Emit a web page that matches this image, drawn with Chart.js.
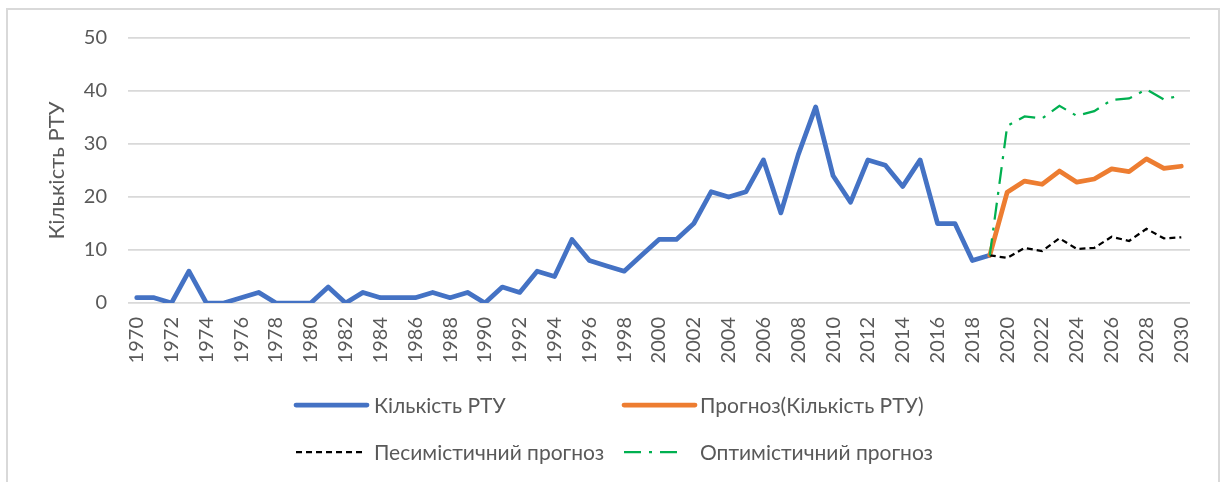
<!DOCTYPE html>
<html><head><meta charset="utf-8">
<script src="https://cdn.jsdelivr.net/npm/chart.js@4.4.0/dist/chart.umd.min.js"></script>
<style>
html,body{margin:0;padding:0;background:#fff;overflow:hidden;}
#frame{position:absolute;left:6px;top:8px;width:1214px;height:490px;border:2px solid #d9d9d9;box-sizing:border-box;}
#wrap{position:absolute;left:0;top:0;width:1221px;height:482px;}
</style></head><body>
<div id="frame"></div>
<div id="wrap"><canvas id="c" width="1221" height="482"></canvas></div>
<script>
const years = ['1970','1971','1972','1973','1974','1975','1976','1977','1978','1979',
  '1980','1981','1982','1983','1984','1985','1986','1987','1988','1989',
  '1990','1991','1992','1993','1994','1995','1996','1997','1998','1999',
  '2000','2001','2002','2003','2004','2005','2006','2007','2008','2009',
  '2010','2011','2012','2013','2014','2015','2016','2017','2018','2019',
  '2020','2021','2022','2023','2024','2025','2026','2027','2028','2029','2030'];

const actual = [1,1,0,6,0,0,1,2,0,0,
  0,3,0,2,1,1,1,2,1,2,
  0,3,2,6,5,12,8,7,6,9,
  12,12,15,21,20,21,27,17,28,37,
  24,19,27,26,22,27,15,15,8,9,
  null,null,null,null,null,null,null,null,null,null,null];

const forecast = [null,null,null,null,null,null,null,null,null,null,
  null,null,null,null,null,null,null,null,null,null,
  null,null,null,null,null,null,null,null,null,null,
  null,null,null,null,null,null,null,null,null,null,
  null,null,null,null,null,null,null,null,null,9,
  20.9,23.0,22.4,24.9,22.8,23.4,25.3,24.8,27.2,25.4,25.8];

const pessimistic = [null,null,null,null,null,null,null,null,null,null,
  null,null,null,null,null,null,null,null,null,null,
  null,null,null,null,null,null,null,null,null,null,
  null,null,null,null,null,null,null,null,null,null,
  null,null,null,null,null,null,null,null,null,9,
  8.5,10.4,9.8,12.2,10.2,10.4,12.5,11.7,14.0,12.2,12.4];

const optimistic = [null,null,null,null,null,null,null,null,null,null,
  null,null,null,null,null,null,null,null,null,null,
  null,null,null,null,null,null,null,null,null,null,
  null,null,null,null,null,null,null,null,null,null,
  null,null,null,null,null,null,null,null,null,9,
  33.4,35.2,34.8,37.2,35.3,36.2,38.3,38.6,40.3,38.4,39.2];

const yTicks = [0,10,20,30,40,50];
const seriesLabels = ['Кількість РТУ','Прогноз(Кількість РТУ)','Песимістичний прогноз','Оптимістичний прогноз'];

const TXT = '#595959';
const FONT = 'Lato, "Noto Sans", sans-serif';

const legendPlugin = {
  id: 'customLegend',
  afterDraw(chart) {
    const ctx = chart.ctx;
    const slots = [
      {x: 296, y: 405, len: 71, tx: 374},
      {x: 624, y: 405, len: 71, tx: 700},
      {x: 296, y: 452, len: 69, tx: 374},
      {x: 624, y: 452, len: 58, tx: 700}
    ];
    chart.data.datasets.forEach((ds, i) => {
      const s = slots[i];
      ctx.save();
      ctx.strokeStyle = ds.borderColor;
      ctx.lineWidth = ds.borderWidth;
      ctx.lineCap = ds.borderDash && ds.borderDash.length ? 'butt' : 'round';
      ctx.setLineDash(ds.borderDash || []);
      ctx.beginPath();
      ctx.moveTo(s.x, s.y);
      ctx.lineTo(s.x + s.len, s.y);
      ctx.stroke();
      ctx.setLineDash([]);
      ctx.fillStyle = TXT;
      ctx.font = '21px ' + FONT;
      ctx.textBaseline = 'middle';
      ctx.textAlign = 'left';
      ctx.fillText(ds.label, s.tx, s.y + 1);
      ctx.restore();
    });
  }
};

new Chart(document.getElementById('c'), {
  type: 'line',
  data: {
    labels: years,
    datasets: [
      {label: seriesLabels[0], data: actual, borderColor: '#4472C4', borderWidth: 4.75, order: 4,
       borderJoinStyle: 'round', borderCapStyle: 'round'},
      {label: seriesLabels[1], data: forecast, borderColor: '#ED7D31', borderWidth: 4.75, order: 3,
       borderJoinStyle: 'round', borderCapStyle: 'round'},
      {label: seriesLabels[2], data: pessimistic, borderColor: '#000000', borderWidth: 2.25, order: 2,
       borderDash: [6, 4]},
      {label: seriesLabels[3], data: optimistic, borderColor: '#00B050', borderWidth: 2.25, order: 1,
       borderDash: [17, 8, 3, 8]}
    ]
  },
  options: {
    responsive: false,
    animation: false,
    spanGaps: false,
    elements: {point: {radius: 0, hoverRadius: 0}, line: {tension: 0, fill: false}},
    layout: {padding: {top: 38, right: 31, bottom: 0, left: 0}},
    plugins: {legend: {display: false}, tooltip: {enabled: false}},
    scales: {
      x: {
        type: 'category',
        offset: true,
        grid: {display: false, drawTicks: false},
        border: {display: false},
        ticks: {
          autoSkip: false, maxRotation: 90, minRotation: 90, padding: 14,
          color: TXT, font: {family: FONT, size: 20},
          callback: (v, i) => (i % 2 === 0 ? years[i] : '')
        },
        afterFit: (s) => { s.height = 179; }
      },
      y: {
        min: 0, max: 50,
        afterBuildTicks: (s) => { s.ticks = yTicks.map(v => ({value: v})); },
        grid: {color: '#d9d9d9', lineWidth: 1.75, drawTicks: false},
        border: {display: false},
        ticks: {padding: 21, color: TXT, font: {family: FONT, size: 20}},
        title: {display: true, text: seriesLabels[0], color: TXT, font: {family: FONT, size: 22},
                padding: {top: 44, bottom: 0}},
        afterFit: (s) => { s.width = 128; }
      }
    }
  },
  plugins: [legendPlugin]
});
</script>
</body></html>
